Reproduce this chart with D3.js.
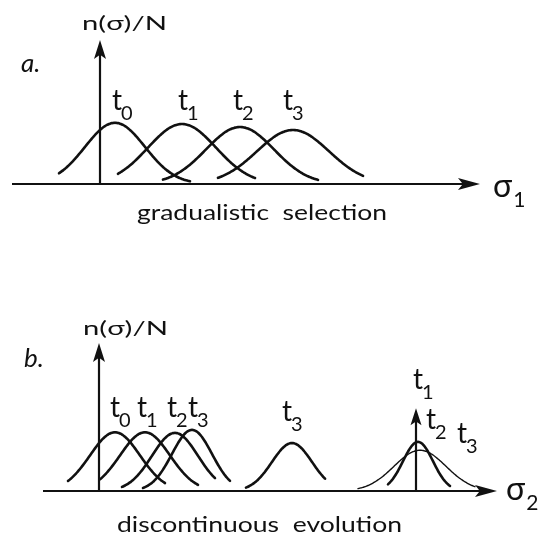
<!DOCTYPE html>
<html><head><meta charset="utf-8">
<script src="https://cdn.jsdelivr.net/npm/d3@7"></script>
<style>body{margin:0;background:#fff} svg{display:block;will-change:transform} text{font-family:Lato,"Liberation Sans",sans-serif;font-weight:400;fill:#111}</style>
</head><body><svg id="c" width="539" height="540"></svg>
<script>
// ---------- panel a: gradualistic selection ----------
const subA    = ["0", "1", "2", "3"];
const centerA = [0.75, 4.1, 7.0, 9.65];
const spreadA = [1.5, 1.7, 1.7, 1.8];
const peakA   = [1.02, 1.0, 0.95, 0.9];
const fromA   = [-2.05, 0.9, 3.15, 5.9];
const toA     = [4.5, 7.75, 10.9, 13.15];
const labelXA = [0.6, 3.9, 6.65, 9.15];
const labelYA = [1.23, 1.23, 1.23, 1.23];

// ---------- panel b: discontinuous evolution ----------
const subB    = ["0", "1", "2", "3", "3", "2", "3"];
const centerB = [0.8, 2.3, 3.8, 4.65, 9.65, 15.95, 16.05];
const spreadB = [1.25, 1.25, 1.15, 1.0, 1.0, 0.75, 1.3];
const peakB   = [0.98, 0.98, 0.97, 1.02, 0.8, 0.82, 0.68];
const fromB   = [-1.55, 0.05, 1.15, 2.2, 7.35, 14.45, 12.95];
const toB     = [3.3, 4.95, 5.8, 6.55, 11.3, 17.55, 18.8];
const thinB   = [false, false, false, false, false, false, true];
const labelXB = [0.55, 1.9, 3.4, 4.45, 9.15, 16.35, 17.9];
const labelYB = [1.23, 1.23, 1.23, 1.23, 1.17, 1.03, 0.8];
// delta-function population at t1
const deltaSub = "1";
const deltaX = 15.85;
const deltaHeight = 1.38;
const deltaLabelX = 15.7;
const deltaLabelY = 1.7;

const svg = d3.select("#c");

function arrowHead(g, x, y, angle, L, W) {
  const p = `M0,0 L${-L},${-W/2} L${-L*0.78},0 L${-L},${W/2} Z`;
  g.append("path").attr("d", p)
    .attr("transform", `translate(${x},${y}) rotate(${angle})`)
    .attr("fill", "#111");
}

function tLabel(g, lx, ly, s) {
  const t = g.append("text").attr("x", lx).attr("y", ly);
  t.append("tspan").attr("font-size", 28).text("t");
  t.append("tspan").attr("font-size", 20).attr("dy", 10).attr("dx", -1).text(s);
}

function panel(opts) {
  const g = svg.append("g");
  const x = d3.scaleLinear().domain(opts.xDomain).range(opts.xRange);
  const y = d3.scaleLinear().domain(opts.yDomain).range(opts.yRange);
  const line = d3.line().x(d => x(d[0])).y(d => y(d[1])).curve(d3.curveBasis);

  // curves
  opts.center.forEach((c, i) => {
    const s = opts.spread[i], a = opts.peak[i];
    const pts = d3.range(opts.from[i], opts.to[i] + 1e-9, 0.05)
      .map(v => [v, a * Math.exp(-((v - c) ** 2) / (2 * s * s))]);
    g.append("path").attr("d", line(pts)).attr("fill", "none")
      .attr("stroke", "#111")
      .attr("stroke-width", opts.thin && opts.thin[i] ? 1.4 : 2.6)
      .attr("stroke-linecap", "round");
  });

  // x axis
  const x0 = opts.xRange[0], x1 = opts.xRange[1], yb = y(0);
  g.append("line").attr("x1", x0).attr("x2", x1 - 16).attr("y1", yb).attr("y2", yb)
    .attr("stroke", "#111").attr("stroke-width", 2.2);
  arrowHead(g, x1, yb, 0, 22, 12);
  // y axis
  g.append("line").attr("x1", x(0)).attr("x2", x(0)).attr("y1", yb).attr("y2", opts.yRange[1] + 14)
    .attr("stroke", "#111").attr("stroke-width", 2.2);
  arrowHead(g, x(0), opts.yRange[1], -90, 19, 12);

  // labels t_i
  opts.sub.forEach((s, i) => tLabel(g, x(opts.labelX[i]), y(opts.labelY[i]), s));
  return {g, x, y};
}

// panel a
const A = panel({
  xDomain: [-4.4, 19], xRange: [12, 480],
  yDomain: [0, 2.4], yRange: [184, 40],
  center: centerA, spread: spreadA, peak: peakA, from: fromA, to: toA,
  sub: subA, labelX: labelXA, labelY: labelYA
});
A.g.append("text").attr("x", 82).attr("y", 30).attr("font-size", 20)
  .attr("textLength", 85).attr("lengthAdjust", "spacingAndGlyphs").text("n(σ)/N");
A.g.append("text").attr("x", 21).attr("y", 72).attr("font-size", 26).attr("font-style", "italic").text("a.");
const s1 = A.g.append("text").attr("x", 493).attr("y", 197);
s1.append("tspan").attr("font-size", 32).text("σ");
s1.append("tspan").attr("font-size", 21).attr("dy", 10).attr("dx", 1).text("1");
A.g.append("text").attr("x", 137).attr("y", 220).attr("font-size", 22).style("white-space", "pre")
  .attr("textLength", 250).attr("lengthAdjust", "spacingAndGlyphs").text("gradualistic  selection");

// panel b
const B = panel({
  xDomain: [-2.8, 19.9], xRange: [43, 497],
  yDomain: [0, 2.47], yRange: [491, 343],
  center: centerB, spread: spreadB, peak: peakB, from: fromB, to: toB, thin: thinB,
  sub: subB, labelX: labelXB, labelY: labelYB
});
// delta arrow
const dxp = B.x(deltaX), dtop = B.y(deltaHeight);
B.g.append("line").attr("x1", dxp).attr("x2", dxp).attr("y1", B.y(0)).attr("y2", dtop + 12)
  .attr("stroke", "#111").attr("stroke-width", 2.2);
arrowHead(B.g, dxp, dtop, -90, 17, 11);
tLabel(B.g, B.x(deltaLabelX), B.y(deltaLabelY), deltaSub);

B.g.append("text").attr("x", 83).attr("y", 335).attr("font-size", 20)
  .attr("textLength", 85).attr("lengthAdjust", "spacingAndGlyphs").text("n(σ)/N");
B.g.append("text").attr("x", 24).attr("y", 367).attr("font-size", 26).attr("font-style", "italic").text("b.");
const s2 = B.g.append("text").attr("x", 506).attr("y", 500);
s2.append("tspan").attr("font-size", 32).text("σ");
s2.append("tspan").attr("font-size", 21).attr("dy", 10).attr("dx", 1).text("2");
B.g.append("text").attr("x", 117).attr("y", 532).attr("font-size", 22).style("white-space", "pre")
  .attr("textLength", 285).attr("lengthAdjust", "spacingAndGlyphs").text("discontinuous  evolution");
</script></body></html>
